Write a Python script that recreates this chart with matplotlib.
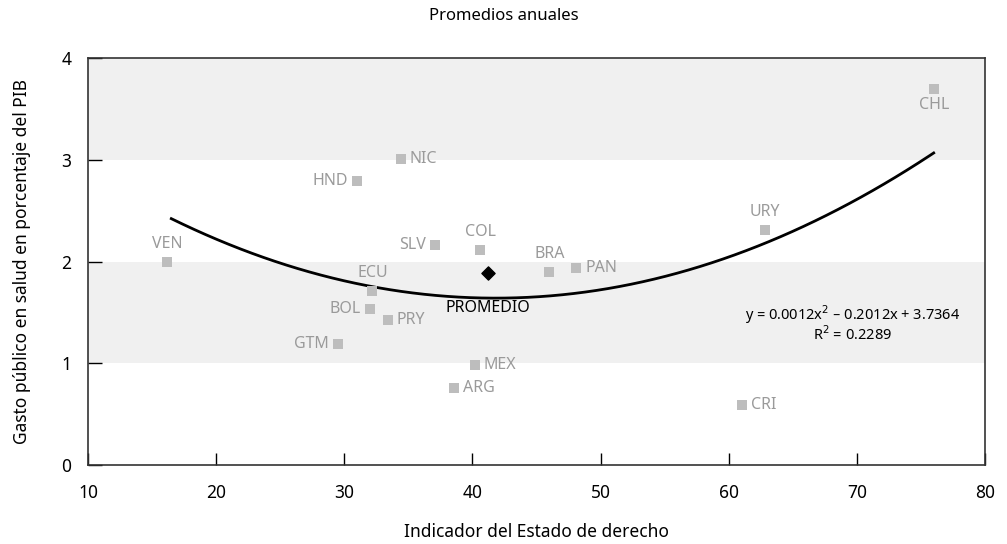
import numpy as np
import matplotlib.pyplot as plt

plt.rcParams['font.family'] = ['Noto Sans', 'DejaVu Sans']

paises = ['VEN', 'HND', 'NIC', 'SLV', 'COL', 'ECU', 'BOL', 'PRY', 'GTM',
          'MEX', 'ARG', 'BRA', 'PAN', 'URY', 'CRI', 'CHL']
estado_derecho = [16.2, 31.0, 34.4, 37.1, 40.6, 32.2, 32.0, 33.4, 29.5,
                  40.2, 38.6, 46.0, 48.1, 62.85, 61.05, 76.0]
gasto_salud = [2.00, 2.79, 3.01, 2.16, 2.11, 1.71, 1.53, 1.43, 1.19,
               0.98, 0.76, 1.90, 1.94, 2.31, 0.59, 3.70]
# where each label sits relative to its marker
posicion = ['top', 'left', 'right', 'left', 'top', 'top', 'left', 'right', 'left',
            'right', 'right', 'top', 'right', 'top', 'right', 'bottom']

promedio_x, promedio_y = 41.2, 1.89

# trend curve coefficients as drawn (a, b, c)
tendencia = [0.00122, -0.1020, 3.772]
tendencia_rango = [16.5, 76.0]

gris_marca = '#bdbdbd'
gris_texto = '#9a9a9a'

fig = plt.figure(figsize=(10.07, 5.44), dpi=100)
ax = fig.add_axes([0.0874, 0.1452, 0.8907, 0.7482])

for lo, hi in [(1, 2), (3, 4)]:
    ax.axhspan(lo, hi, color='#f0f0f0', zorder=0, lw=0)

xs = np.linspace(*tendencia_rango, 200)
ax.plot(xs, np.polyval(tendencia, xs), color='black', lw=2, zorder=2)

ax.scatter(estado_derecho, gasto_salud, marker='s', s=60, color=gris_marca,
           zorder=3, linewidths=0)

offsets = {'top': ((0, 18), 'center', 'center'),
           'bottom': ((0, -16), 'center', 'center'),
           'left': ((-9, 0), 'right', 'center'),
           'right': ((9, 0), 'left', 'center')}
for p, x, y, pos in zip(paises, estado_derecho, gasto_salud, posicion):
    off, ha, va = offsets[pos]
    ax.annotate(p, (x, y), xytext=off, textcoords='offset pixels', ha=ha, va=va,
                fontsize=11.5, color=gris_texto, zorder=4)

ax.scatter([promedio_x], [promedio_y], marker='D', s=45, color='black', zorder=4)
ax.annotate('PROMEDIO', (promedio_x, promedio_y), xytext=(0, -35),
            textcoords='offset pixels', ha='center', va='center', fontsize=11.5,
            color='black', zorder=4)

ax.text(69.7, 1.48, 'y = 0.0012x$^2$ – 0.2012x + 3.7364', ha='center', va='center',
        fontsize=10.5, color='black')
ax.text(69.7, 1.28, 'R$^2$ = 0.2289', ha='center', va='center', fontsize=10.5,
        color='black')

ax.set_xlim(10, 80)
ax.set_ylim(0, 4)
ax.set_xticks(range(10, 81, 10))
ax.set_yticks(range(0, 5))
ax.tick_params(axis='y', direction='in', length=10, width=1, labelsize=12.5, pad=12)
ax.tick_params(axis='x', direction='in', length=9, width=1, labelsize=12.5, pad=14)
for s in ax.spines.values():
    s.set_color('#333333')
    s.set_linewidth(1.2)

ax.set_xlabel('Indicador del Estado de derecho', fontsize=12.5, labelpad=15)
ax.set_ylabel('Gasto público en salud en porcentaje del PIB', fontsize=12.5, labelpad=22)
fig.suptitle('Promedios anuales', y=0.985, fontsize=12)

fig.savefig('out.png', dpi=100)
